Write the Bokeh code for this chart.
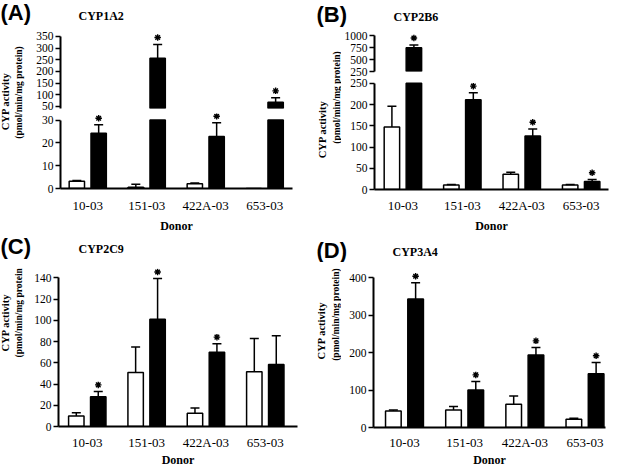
import numpy as np
from bokeh.plotting import figure
from bokeh.models import Range1d, FixedTicker, Label
from bokeh.layouts import row, column
from bokeh.embed import file_html
from bokeh.resources import INLINE

# ---------------- data ----------------
donors = ["10-03", "151-03", "422A-03", "653-03"]

# (A) CYP1A2  (white = control, black = treated)
a_ctrl = [3.2, 0.6, 2.1, 0.0]
a_ctrl_sd = [0.3, 1.3, 0.3, 0.0]
a_trt = [24.2, 257.0, 22.8, 68.0]
a_trt_sd = [3.7, 59.0, 6.0, 19.0]
a_sig = [1, 1, 1, 1]

# (B) CYP2B6
b_ctrl = [147.0, 10.5, 36.0, 10.5]
b_ctrl_sd = [49.0, 1.5, 4.5, 1.5]
b_trt = [745.0, 211.0, 126.0, 19.0]
b_trt_sd = [57.0, 16.5, 16.5, 4.5]
b_sig = [1, 1, 1, 1]

# (C) CYP2C9
c_ctrl = [10.0, 51.0, 12.6, 51.5]
c_ctrl_sd = [3.0, 24.0, 4.8, 31.5]
c_trt = [28.0, 101.0, 70.0, 58.5]
c_trt_sd = [5.0, 38.4, 8.0, 27.0]
c_sig = [1, 1, 1, 0]

# (D) CYP3A4
d_ctrl = [44.0, 47.0, 62.0, 22.0]
d_ctrl_sd = [3.0, 9.5, 22.0, 2.5]
d_trt = [344.0, 100.0, 194.0, 143.5]
d_trt_sd = [43.0, 23.0, 20.0, 30.5]
d_sig = [1, 1, 1, 1]

a_ticks_up = [50, 100, 150, 200, 250, 300, 350]
a_ticks_lo = [0, 10, 20, 30]
b_ticks_up = [250, 500, 750, 1000]
b_ticks_lo = [0, 50, 100, 150, 200, 250]
c_ticks = [0, 20, 40, 60, 80, 100, 120, 140]
d_ticks = [0, 100, 200, 300, 400]

SERIF = "Liberation Serif"
SANS = "Liberation Sans"
OFF = 0.185
BW = 0.26
STAR_PX = 7


def blank(w, h):
    p = figure(width=w, height=h, x_range=Range1d(0, w), y_range=Range1d(0, h),
               output_backend="svg", toolbar_location=None, title=None,
               x_axis_location=None, y_axis_location=None,
               min_border_left=0, min_border_right=0, min_border_top=0, min_border_bottom=0)
    p.outline_line_color = None
    p.grid.visible = False
    return p


def header(w, h, tag, tag_y, title, tx, ty):
    p = blank(w, h)
    p.add_layout(Label(x=0, y=tag_y, text=tag, text_font=SANS, text_font_size="22px",
                       text_font_style="bold", text_align="left", text_baseline="middle",
                       text_color="black"))
    p.add_layout(Label(x=tx, y=ty, text=title, text_font=SERIF, text_font_size="12px",
                       text_font_style="bold", text_align="left", text_baseline="middle",
                       text_color="black"))
    return p


def ylabel(w, h, x1, y1, x2, y2):
    p = blank(w, h)
    p.add_layout(Label(x=x1, y=y1, text="CYP activity", angle=np.pi / 2, text_font=SERIF,
                       text_font_size="10.5px", text_font_style="bold",
                       text_align="center", text_baseline="middle", text_color="black"))
    p.add_layout(Label(x=x2, y=y2, text="(pmol/min/mg protein)", angle=np.pi / 2, text_font=SERIF,
                       text_font_size="9.5px", text_font_style="bold",
                       text_align="center", text_baseline="middle", text_color="black"))
    return p


def panel_fig(w, h, xr, yr, mb, yticks, ybounds, show_x, xstand=2, lstand=2):
    p = figure(width=w, height=h, x_range=Range1d(*xr), y_range=Range1d(*yr),
               output_backend="svg", toolbar_location=None, title=None,
               x_axis_location="below" if show_x else None, y_axis_location="left",
               min_border_left=mb[0], min_border_right=mb[1],
               min_border_top=mb[2], min_border_bottom=mb[3])
    p.outline_line_color = None
    p.grid.visible = False
    ya = p.yaxis[0]
    ya.ticker = FixedTicker(ticks=yticks)
    ya.bounds = ybounds
    ya.axis_line_width = 2
    ya.axis_line_color = "black"
    ya.major_tick_line_width = 1.5
    ya.major_tick_line_color = "black"
    ya.major_tick_out = 5
    ya.major_tick_in = 0
    ya.minor_tick_line_color = None
    ya.major_label_text_font = SERIF
    ya.major_label_text_font_size = "11.5px"
    ya.major_label_text_color = "black"
    ya.major_label_standoff = 2
    if show_x:
        xa = p.xaxis[0]
        xa.ticker = FixedTicker(ticks=list(range(1, len(donors) + 1)))
        xa.major_label_overrides = {i + 1: d for i, d in enumerate(donors)}
        xa.axis_line_width = 2
        xa.axis_line_color = "black"
        xa.major_tick_line_color = None
        xa.minor_tick_line_color = None
        xa.major_label_text_font = SERIF
        xa.major_label_text_font_size = "13px"
        xa.major_label_text_color = "black"
        xa.major_label_standoff = xstand
        xa.axis_label = "Donor"
        xa.axis_label_text_font = SERIF
        xa.axis_label_text_font_size = "12px"
        xa.axis_label_text_font_style = "bold"
        xa.axis_label_text_color = "black"
        xa.axis_label_standoff = lstand
    return p


def draw(p, frame_h, yr, ctrl, ctrl_sd, trt, trt_sd, sig, cap=None, floor=None):
    x = np.arange(1, len(donors) + 1, dtype=float)
    vals = np.concatenate([np.asarray(ctrl, float), np.asarray(trt, float)])
    sds = np.concatenate([np.asarray(ctrl_sd, float), np.asarray(trt_sd, float)])
    xs = np.concatenate([x - OFF, x + OFF])
    fills = np.array(["white"] * len(x) + ["black"] * len(x))
    stars = np.concatenate([np.zeros(len(x), bool), np.asarray(sig, bool)])
    hi = vals + sds
    if cap is not None:
        tops = np.minimum(vals, cap)
        keep = vals < cap
        bar_keep = np.ones(len(xs), bool)
    else:
        tops = vals
        keep = vals > floor
        bar_keep = keep
    p.vbar(x=xs[bar_keep], top=tops[bar_keep], bottom=0, width=BW,
           fill_color=list(fills[bar_keep]), line_color="black", line_width=1.5)
    ek = keep & (sds > 0)
    p.segment(x0=xs[ek], y0=vals[ek], x1=xs[ek], y1=hi[ek], line_color="black", line_width=1.5)
    p.scatter(x=xs[ek], y=hi[ek], marker="dash", size=9, line_color="black", line_width=1.5)
    sk = keep & stars
    per_px = (yr[1] - yr[0]) / frame_h
    p.scatter(x=xs[sk], y=hi[sk] + STAR_PX * per_px, marker="asterisk", size=6.5,
              line_color="black", line_width=1.4)


# ---------------- panel A ----------------
xrA = (0.538, 4.471)
yrA_up = (41.4, 375.7)
upA = panel_fig(283, 83, xrA, yrA_up, (25, 24, 1, 4), a_ticks_up, (41.4, 350), False)
draw(upA, 78, yrA_up, a_ctrl, a_ctrl_sd, a_trt, a_trt_sd, a_sig, floor=41.4)
yrA_lo = (0, 32.88)
loA = panel_fig(283, 123, xrA, yrA_lo, (25, 24, 1, 42), a_ticks_lo, (0, 30), True, 3, 3)
draw(loA, 80, yrA_lo, a_ctrl, a_ctrl_sd, a_trt, a_trt_sd, a_sig, cap=30)
panelA = column(header(316, 29, "(A)", 17, "CYP1A2", 78, 14),
                row(ylabel(33, 206, 5, 134, 18, 143), column(upA, loA)))

# ---------------- panel B ----------------
xrB = (0.522, 4.46)
yrB_up = (250, 1104.2)
upB = panel_fig(276, 47, xrB, yrB_up, (32, 9, 1, 5), b_ticks_up, (250, 1000), False)
draw(upB, 41, yrB_up, b_ctrl, b_ctrl_sd, b_trt, b_trt_sd, b_sig, floor=250)
yrB_lo = (0, 261.3)
loB = panel_fig(276, 159, xrB, yrB_lo, (32, 9, 2, 41), b_ticks_lo, (0, 250), True, 2, 3)
draw(loB, 116, yrB_lo, b_ctrl, b_ctrl_sd, b_trt, b_trt_sd, b_sig, cap=250)
panelB = column(header(301, 29, "(B)", 15, "CYP2B6", 77, 13),
                row(ylabel(25, 206, 6, 106, 20, 138), column(upB, loB)))

# ---------------- panel C ----------------
yrC = (0, 148.9)
pC = panel_fig(285, 207, (0.515, 4.543), yrC, (25, 19, 6, 33), c_ticks, (0, 140), True, 2, 0)
draw(pC, 168, yrC, c_ctrl, c_ctrl_sd, c_trt, c_trt_sd, c_sig, cap=1e9)
panelC = column(header(316, 27, "(C)", 16, "CYP2C9", 78, 14),
                row(ylabel(31, 207, 5, 136, 18, 151), pC))

# ---------------- panel D ----------------
yrD = (0, 425.3)
pD = panel_fig(276, 207, (0.485, 4.341), yrD, (32, 12, 6, 33), d_ticks, (0, 400), True, 1, 0)
draw(pD, 168, yrD, d_ctrl, d_ctrl_sd, d_trt, d_trt_sd, d_sig, cap=1e9)
panelD = column(header(301, 27, "(D)", 12, "CYP3A4", 76, 11),
                row(ylabel(25, 207, 5, 126, 19, 147), pD))

layout = column(row(panelA, panelB), row(panelC, panelD))

open("out.html", "w").write(file_html(layout, INLINE))
